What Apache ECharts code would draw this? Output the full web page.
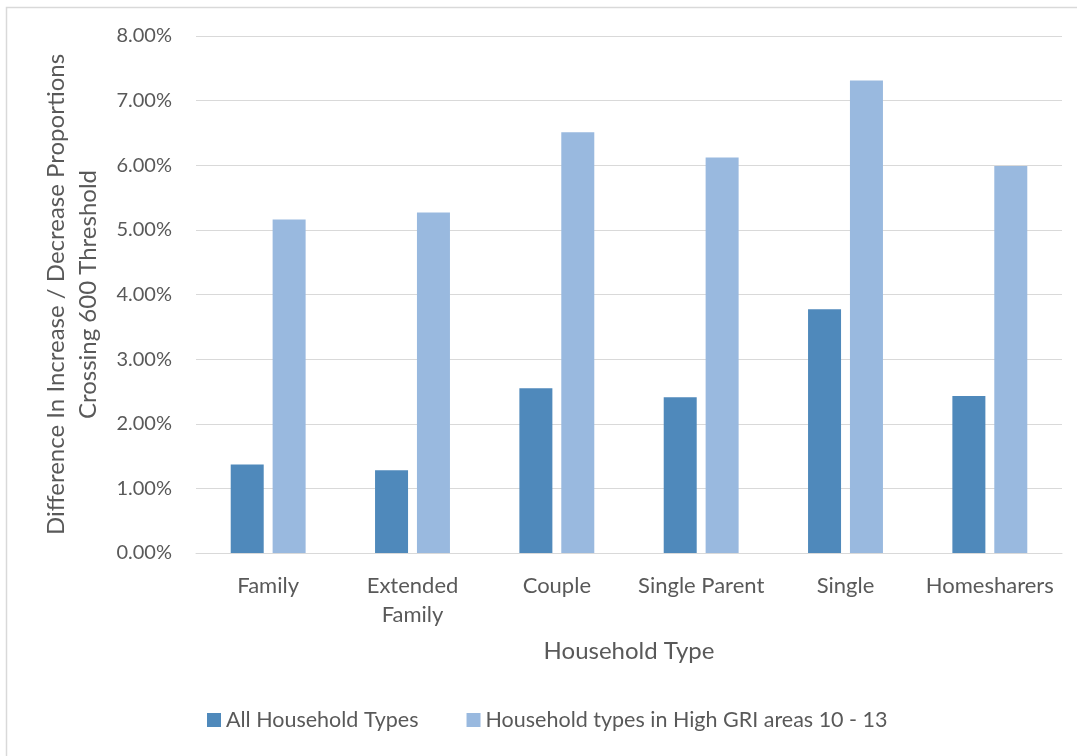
<!DOCTYPE html>
<html>
<head>
<meta charset="utf-8">
<script src="https://cdn.jsdelivr.net/npm/echarts@6/dist/echarts.min.js"></script>
<style>
  html, body { margin: 0; padding: 0; background: #ffffff; }
  #chart { width: 1077px; height: 756px; }
</style>
</head>
<body>
<div id="chart"></div>
<script>
// Household categories along the x axis
const categories = ['Family', 'Extended\nFamily', 'Couple', 'Single Parent', 'Single', 'Homesharers'];

// Difference in increase / decrease proportions crossing the 600 threshold (%)
const allHouseholdTypes = [1.37, 1.28, 2.55, 2.41, 3.77, 2.43];
const highGriAreas = [5.16, 5.27, 6.51, 6.12, 7.31, 5.99];

const seriesNames = ['All Household Types', 'Household types in High GRI areas 10 - 13'];

const FONT = 'Lato, "Open Sans", "Noto Sans", sans-serif';
const TEXT = '#595959';

const chart = echarts.init(document.getElementById('chart'), null, { renderer: 'canvas' });

chart.setOption({
  backgroundColor: '#ffffff',
  animation: false,
  textStyle: { fontFamily: FONT },
  graphic: [{
    type: 'rect',
    shape: { x: 6.5, y: 7.5, width: 1200, height: 900 },
    style: { fill: 'none', stroke: '#d9d9d9', lineWidth: 1.5 },
    silent: true,
    z: -10
  }],
  grid: { left: 196, right: 15, top: 36, bottom: 203, containLabel: false },
  legend: {
    bottom: 20,
    left: 202,
    itemWidth: 14,
    itemHeight: 14,
    itemGap: 48,
    icon: 'rect',
    textStyle: { color: TEXT, fontSize: 21.5, fontFamily: FONT },
    data: seriesNames
  },
  xAxis: {
    type: 'category',
    data: categories,
    name: 'Household Type',
    nameLocation: 'middle',
    nameGap: 86,
    nameTextStyle: { color: TEXT, fontSize: 24, fontFamily: FONT },
    axisLine: { show: true, lineStyle: { color: '#d9d9d9', width: 1 } },
    axisTick: { show: false },
    axisLabel: { color: TEXT, fontSize: 22, lineHeight: 29, margin: 18, interval: 0, fontFamily: FONT }
  },
  yAxis: {
    type: 'value',
    min: 0,
    max: 8,
    interval: 1,
    name: 'Difference In Increase / Decrease Proportions\nCrossing 600 Threshold',
    nameLocation: 'middle',
    nameGap: 92,
    nameTextStyle: { color: TEXT, fontSize: 24, lineHeight: 32, fontFamily: FONT },
    axisLine: { show: false },
    axisTick: { show: false },
    axisLabel: {
      color: TEXT, fontSize: 20, margin: 24, fontFamily: FONT,
      formatter: v => v.toFixed(2) + '%'
    },
    splitLine: { lineStyle: { color: '#d9d9d9', width: 1 } }
  },
  series: [
    {
      name: seriesNames[0],
      type: 'bar',
      data: allHouseholdTypes,
      barWidth: 33,
      barGap: '27%',
      itemStyle: { color: '#4f89bb' }
    },
    {
      name: seriesNames[1],
      type: 'bar',
      data: highGriAreas,
      barWidth: 33,
      barGap: '27%',
      itemStyle: { color: '#99b9df' }
    }
  ]
});
</script>
</body>
</html>
